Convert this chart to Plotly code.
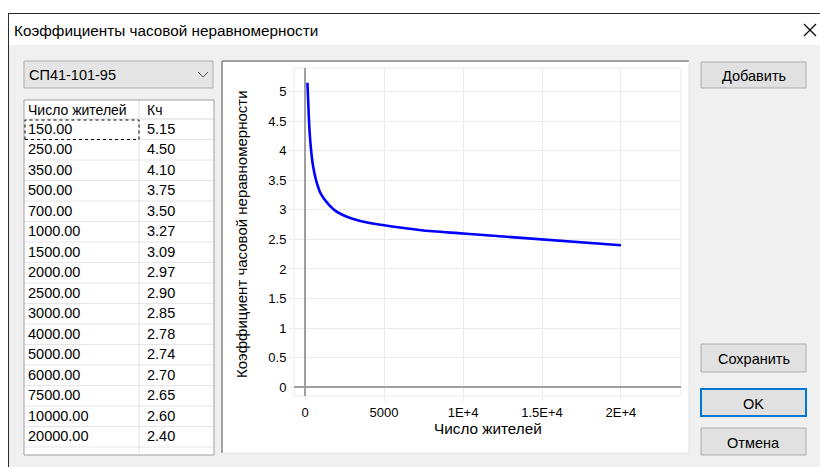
import plotly.graph_objects as go

# ── Data ──────────────────────────────────────────────────────────────────────
POPULATION = [150, 250, 350, 500, 700, 1000, 1500, 2000, 2500, 3000,
              4000, 5000, 6000, 7500, 10000, 20000]
KH = [5.15, 4.50, 4.10, 3.75, 3.50, 3.27, 3.09, 2.97, 2.90, 2.85,
      2.78, 2.74, 2.70, 2.65, 2.60, 2.40]
COLUMNS = ["Число\u00a0жителей", "Кч"]

X_TICKS = [0, 5000, 10000, 15000, 20000]
X_TICK_LABELS = ["0", "5000", "1E+4", "1.5E+4", "2E+4"]
Y_TICKS = [0, 0.5, 1, 1.5, 2, 2.5, 3, 3.5, 4, 4.5, 5]
Y_TICK_LABELS = ["0", "0.5", "1", "1.5", "2", "2.5", "3", "3.5", "4", "4.5", "5"]

W, H = 820, 467
FONT = "Liberation Sans, Arial, sans-serif"
CLEAR = "rgba(0,0,0,0)"


def px(x):
    return x / W


def py(y):
    return 1 - y / H


shapes = []
annotations = []


def rect(x0, y0, x1, y1, fill=None, line=None, width=1, layer="below", dash=None):
    shapes.append(dict(
        type="rect", xref="paper", yref="paper",
        x0=px(x0), x1=px(x1), y0=py(y1), y1=py(y0),
        fillcolor=fill if fill else CLEAR,
        line=dict(color=line if line else CLEAR, width=width if line else 0, dash=dash),
        layer=layer,
    ))


def seg(x0, y0, x1, y1, color, width=1, layer="above"):
    shapes.append(dict(
        type="line", xref="paper", yref="paper",
        x0=px(x0), x1=px(x1), y0=py(y0), y1=py(y1),
        line=dict(color=color, width=width), layer=layer,
    ))


def label(text, x, y, size=13, anchor="center", angle=0, color="#000000"):
    annotations.append(dict(
        text=text, xref="paper", yref="paper", x=px(x), y=py(y),
        xanchor=anchor, yanchor="middle", showarrow=False, textangle=angle,
        font=dict(size=size, color=color, family=FONT),
    ))


# ── Dialog frame ──────────────────────────────────────────────────────────────
rect(8, 45, 830, 480, fill="#f0f0f0")
rect(8, 13, 830, 45, fill="#ffffff")
seg(8, 13.5, 830, 13.5, "#2b2b2b", 1, "below")
seg(8.5, 13, 8.5, 480, "#2b2b2b", 1, "below")
label("Коэффициенты часовой неравномерности", 12, 30, size=15.3, anchor="left")
seg(804, 24, 816, 36, "#000000", 1.2)
seg(816, 24, 804, 36, "#000000", 1.2)

# dropdown
rect(24, 61, 213, 88, fill="#e5e5e5", line="#adadad")
label("СП41-101-95", 27, 75, size=14.5, anchor="left")
seg(198, 72, 203, 77, "#555555", 1)
seg(203, 77, 208, 72, "#555555", 1)

# table background, row separators and column divider
TBL_TOP, HEAD_H, ROW_H = 100, 19, 20.5
rect(24, TBL_TOP, 214, 455, fill="#ffffff")
for k in range(len(POPULATION) + 1):
    yy = TBL_TOP + HEAD_H + k * ROW_H
    seg(24, yy, 214, yy, "#d9d9d9" if k == 0 else "#e6e6e6", 1)
seg(139, TBL_TOP, 139, 455, "#e0e0e0", 1)

# chart panel (sunken)
rect(222, 61, 689, 453, fill="#ffffff")
seg(222, 61, 689, 61, "#a0a0a0", 2, "below")
seg(222, 61, 222, 453, "#a0a0a0", 2, "below")
seg(222, 453, 689, 453, "#e3e3e3", 1, "below")
seg(689, 61, 689, 453, "#e3e3e3", 1, "below")

# plot frame
rect(294, 68, 681, 396, line="#ebebeb", layer="below")

# buttons
for (y0, y1, txt, border, bw) in [
    (62, 88, "Добавить", "#adadad", 1),
    (344, 372, "Сохранить", "#adadad", 1),
    (389, 416, "OK", "#0078d7", 2),
    (428, 455, "Отмена", "#adadad", 1),
]:
    rect(701, y0, 806, y1, fill="#e1e1e1", line=border, width=bw)
    label(txt, 753.5, (y0 + y1) / 2 + 1, size=14.5)

# axis titles
label("Коэффициент часовой неравномерности", 241, 234, size=15, angle=-90)
label("Число жителей", 488, 428, size=15.3)

# ── Figure ────────────────────────────────────────────────────────────────────
fig = go.Figure()

fig.add_trace(go.Scatter(
    x=POPULATION, y=KH, mode="lines",
    line=dict(color="#0000ff", width=2.6, shape="spline", smoothing=0.6),
    hoverinfo="x+y", showlegend=False,
))

# plotly pads table text a few px low, so the text-only table is lifted;
# the visible grid comes from the shapes above
fig.add_trace(go.Table(
    domain=dict(x=[px(20), px(214)], y=[py(455), py(TBL_TOP - 4)]),
    columnwidth=[119, 75],
    header=dict(
        values=COLUMNS,
        fill_color=CLEAR, line_color=CLEAR, align="left",
        font=dict(size=14, color="#000000", family=FONT), height=HEAD_H,
    ),
    cells=dict(
        values=[POPULATION, KH], format=[".2f", ".2f"],
        fill_color=CLEAR, line_color=CLEAR, align="left",
        font=dict(size=14.5, color="#000000", family=FONT), height=ROW_H,
    ),
))

# table frame and focus rectangle on the first cell
rect(24, TBL_TOP, 214, 455, line="#a0a0a0", layer="above")
rect(25, 120, 139, 139.5, line="#000000", width=1, layer="above", dash="dot")

fig.update_layout(
    width=W, height=H,
    margin=dict(l=0, r=0, t=0, b=0),
    paper_bgcolor="#ffffff", plot_bgcolor="#ffffff",
    font=dict(family=FONT, size=13, color="#000000"),
    showlegend=False,
    xaxis=dict(
        domain=[px(294), px(681)], range=[-700, 23800],
        tickvals=X_TICKS, ticktext=X_TICK_LABELS,
        showgrid=True, gridcolor="#ebebeb", gridwidth=1,
        zeroline=True, zerolinecolor="#a0a0a0", zerolinewidth=1.5,
        ticks="outside", ticklen=4, tickcolor="#ebebeb",
        showline=False, tickfont=dict(size=13, color="#000000"),
        fixedrange=True,
    ),
    yaxis=dict(
        domain=[py(396), py(68)], range=[-0.15, 5.4],
        tickvals=Y_TICKS, ticktext=Y_TICK_LABELS,
        showgrid=True, gridcolor="#ebebeb", gridwidth=1,
        zeroline=True, zerolinecolor="#a0a0a0", zerolinewidth=1.5,
        ticks="outside", ticklen=4, tickcolor="#ebebeb",
        showline=False, tickfont=dict(size=13, color="#000000"),
        fixedrange=True,
    ),
    shapes=shapes,
    annotations=annotations,
)

fig.write_html(
    "out.html",
    config={"displayModeBar": False},
    post_script="document.body.style.margin='0';document.body.style.overflow='hidden';",
)
